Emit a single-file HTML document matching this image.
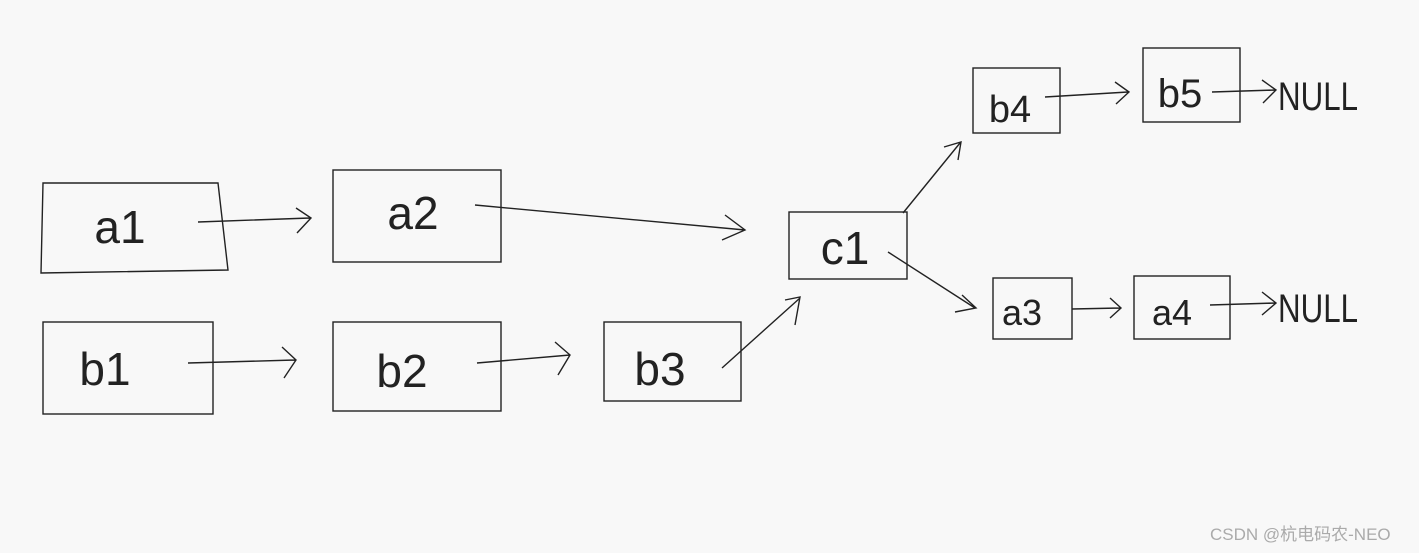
<!DOCTYPE html>
<html><head><meta charset="utf-8"><style>
html,body{margin:0;padding:0;background:#f8f8f8;}
svg{display:block}
text{font-family:"Liberation Sans","Noto Sans CJK SC",sans-serif;}
</style></head><body>
<svg width="1419" height="553" viewBox="0 0 1419 553" xmlns="http://www.w3.org/2000/svg">
<rect width="1419" height="553" fill="#f8f8f8"/>
<g fill="none" stroke="#222" stroke-width="1.4">
<polygon points="43,183 218,183 228,270 41,273"/>
<rect x="333" y="170" width="168" height="92"/>
<rect x="43" y="322" width="170" height="92"/>
<rect x="333" y="322" width="168" height="89"/>
<rect x="604" y="322" width="137" height="79"/>
<rect x="789" y="212" width="118" height="67"/>
<rect x="973" y="68" width="87" height="65"/>
<rect x="1143" y="48" width="97" height="74"/>
<rect x="993" y="278" width="79" height="61"/>
<rect x="1134" y="276" width="96" height="63"/>
<!-- arrows -->
<path d="M198,222 L310,218 M296,208 L311,218 L297,233"/>
<path d="M475,205 L745,230 M725,215 L745,230 L722,240"/>
<path d="M188,363 L295,360 M282,347 L296,360 L284,378"/>
<path d="M477,363 L570,355 M555,342 L570,355 L558,375"/>
<path d="M722,368 L800,298 M785,300 L800,297 L795,325"/>
<path d="M903,213 L960,143 M944,147 L961,142 L958,160"/>
<path d="M888,252 L975,308 M955,312 L976,308 L962,295"/>
<path d="M1045,97 L1128,92 M1115,82 L1129,92 L1116,104"/>
<path d="M1212,92 L1275,90 M1262,80 L1276,90 L1263,103"/>
<path d="M1072,309 L1120,308 M1110,298 L1121,308 L1110,318"/>
<path d="M1210,305 L1275,303 M1262,292 L1276,303 L1262,315"/>
</g>
<g fill="#222" font-size="46" text-anchor="middle">
<text x="120" y="243">a1</text>
<text x="413" y="229">a2</text>
<text x="105" y="385">b1</text>
<text x="402" y="387">b2</text>
<text x="660" y="385">b3</text>
<text x="845" y="264">c1</text>
<text x="1010" y="122" font-size="38">b4</text>
<text x="1180" y="107" font-size="40">b5</text>
<text x="1022" y="325" font-size="36">a3</text>
<text x="1172" y="325" font-size="36">a4</text>
<text x="1318" y="110" font-size="40" textLength="80" lengthAdjust="spacingAndGlyphs">NULL</text>
<text x="1318" y="322" font-size="40" textLength="80" lengthAdjust="spacingAndGlyphs">NULL</text>
</g>
<text x="1210" y="540" font-size="17" fill="#aaa">CSDN @杭电码农-NEO</text>
</svg>
</body></html>
